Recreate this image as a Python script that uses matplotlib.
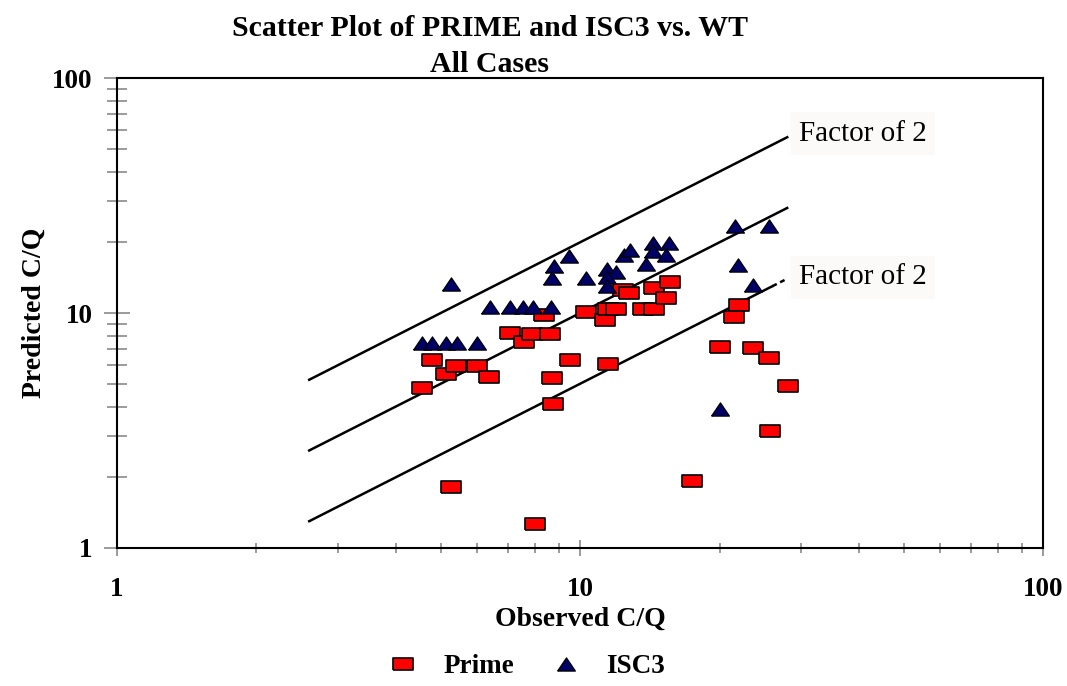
import numpy as np
import matplotlib
matplotlib.use("Agg")
import matplotlib.pyplot as plt
from matplotlib.lines import Line2D

plt.rcParams["font.family"] = ["Liberation Serif", "DejaVu Serif"]

# ---- data ----
prime_obs = [4.55, 4.78, 5.13, 5.39, 6.00, 6.37, 7.06, 7.57, 7.86, 8.36, 8.61, 8.69,
             9.52, 10.28, 11.32, 11.47, 11.96, 11.46, 12.38, 12.78, 13.70, 14.45,
             14.45, 15.64, 15.31, 8.75, 5.26, 8.00, 21.98, 21.51, 20.06, 23.67,
             25.63, 28.14, 25.72, 17.43]
prime_pred = [4.81, 6.31, 5.50, 5.97, 5.95, 5.36, 8.26, 7.50, 8.14, 9.78, 8.14, 5.27,
              6.31, 10.13, 9.38, 10.40, 10.40, 6.05, 12.59, 12.20, 10.40, 10.40,
              12.74, 13.55, 11.53, 4.09, 1.82, 1.26, 10.82, 9.65, 7.19, 7.08,
              6.42, 4.89, 3.16, 1.93]

isc3_obs = [5.26, 6.39, 7.04, 7.54, 7.90, 8.64, 4.55, 4.78, 5.13, 5.42, 6.00,
            8.79, 8.69, 9.48, 10.29, 11.42, 11.96, 11.42, 11.45, 12.41, 12.82,
            13.87, 14.40, 15.58, 14.40, 15.29, 21.56, 25.63, 21.92, 23.68, 20.06]
isc3_pred = [13.25, 10.6, 10.6, 10.6, 10.6, 10.6, 7.43, 7.43, 7.43, 7.43, 7.43,
             15.85, 14.1, 17.5, 14.1, 15.35, 14.99, 14.19, 13.09, 17.65, 18.54,
             16.12, 19.8, 19.8, 18.4, 17.62, 23.35, 23.57, 16.0, 13.16, 3.89]

ref_x = np.array([2.6, 28.0])      # 1:1 and factor-of-2 lines
tail_x = np.array([26.0, 28.0])    # dashed tail of lower line

# custom markers: wide rectangle and flat triangle
rect = [(-1, -0.66), (1, -0.66), (1, 0.66), (-1, 0.66), (-1, -0.66)]
tri = [(-1, -0.74), (1, -0.74), (0, 0.74), (-1, -0.74)]

fig = plt.figure(figsize=(10.67, 6.86), dpi=100)
ax = fig.add_axes([0.1097, 0.2012, 0.868, 0.685])
ax.set_xscale("log")
ax.set_yscale("log")
ax.set_xlim(1, 100)
ax.set_ylim(1, 100)

# reference lines
ax.plot(ref_x, ref_x * 2, color="black", lw=1.8, zorder=2)
ax.plot(ref_x, ref_x, color="black", lw=1.8, zorder=2)
ax.plot([ref_x[0], tail_x[0]], [ref_x[0] / 2, tail_x[0] / 2], color="black", lw=1.8, zorder=2)
ax.plot(tail_x, tail_x / 2, color="black", lw=1.8, ls=(0, (2, 1.5)), zorder=2)

ax.scatter(prime_obs, prime_pred, marker=rect, s=190, c="#ff0000",
           edgecolors="black", linewidths=1.2, zorder=3, label="Prime")
ax.scatter(isc3_obs, isc3_pred, marker=tri, s=165, c="#000066",
           edgecolors="black", linewidths=0.9, zorder=4, label="ISC3")

box = dict(facecolor="#fbfaf8", edgecolor="none", pad=6)
ax.text(29.7, 58, "Factor of 2", fontsize=21, va="center", ha="left", bbox=box)
ax.text(29.7, 14.2, "Factor of 2", fontsize=21, va="center", ha="left", bbox=box)

# axes styling
for sp in ax.spines.values():
    sp.set_color("black")
    sp.set_linewidth(1.5)

ax.set_xticks([1, 10, 100])
ax.set_xticklabels(["1", "10", "100"])
ax.set_yticks([1, 10, 100])
ax.set_yticklabels(["1", "10", "100"])
ax.tick_params(axis="x", which="major", direction="inout", length=12, width=1.1,
               color="#808080", labelsize=19.5, pad=15)
ax.tick_params(axis="x", which="minor", direction="inout", length=7, width=1.1,
               color="#808080")
ax.tick_params(axis="y", which="major", direction="inout", length=19, width=1.1,
               color="#808080", labelsize=19.5, pad=8)
ax.tick_params(axis="y", which="minor", direction="inout", length=14, width=1.1,
               color="#808080")
ax.yaxis.set_minor_formatter(matplotlib.ticker.NullFormatter())
ax.xaxis.set_minor_formatter(matplotlib.ticker.NullFormatter())
for lbl in ax.get_xticklabels() + ax.get_yticklabels():
    lbl.set_fontweight("bold")

ax.set_xlabel("Observed C/Q", fontsize=20, fontweight="bold", labelpad=3)
ax.set_ylabel("Predicted C/Q", fontsize=20, fontweight="bold", labelpad=4)

fig.text(0.459, 0.958, "Scatter Plot of PRIME and ISC3 vs. WT", fontsize=21.5,
         fontweight="bold", ha="center", va="center")
fig.text(0.459, 0.906, "All Cases", fontsize=21.5, fontweight="bold",
         ha="center", va="center")

handles = [
    Line2D([], [], ls="none", marker=rect, markersize=13.8, markerfacecolor="#ff0000",
           markeredgecolor="black", markeredgewidth=1.2, label="Prime"),
    Line2D([], [], ls="none", marker=tri, markersize=12.8, markerfacecolor="#000066",
           markeredgecolor="black", markeredgewidth=0.9, label="ISC3"),
]
fig.legend(handles=handles, loc="center", bbox_to_anchor=(0.494, 0.028), ncol=2,
           frameon=False, handlelength=1.0, handletextpad=1.0,
           columnspacing=1.4, prop={"weight": "bold", "size": 19.5})

fig.savefig("out.png", dpi=100)
